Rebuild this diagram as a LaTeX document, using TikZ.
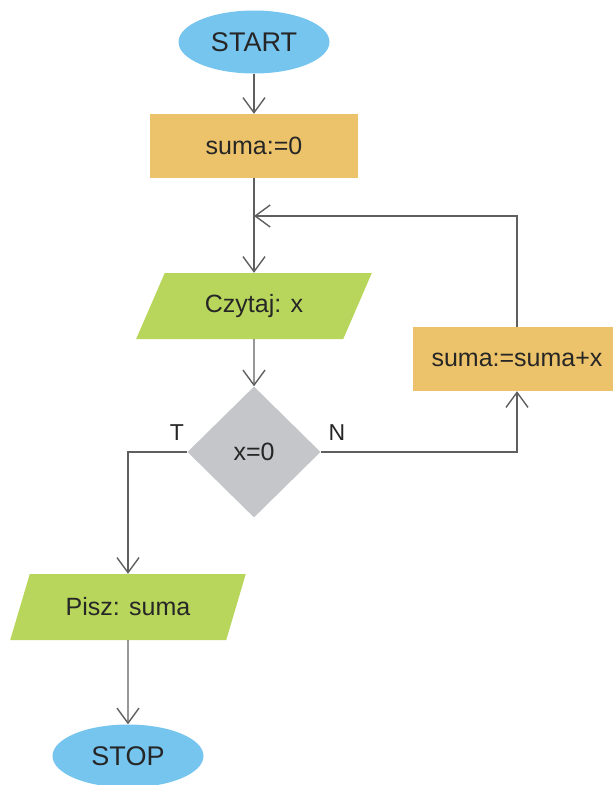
\documentclass[tikz,border=0pt]{standalone}
\usepackage{fontspec}
\setmainfont{Liberation Sans}
\usetikzlibrary{arrows.meta,shapes.geometric}
\definecolor{TermBlue}{RGB}{118,197,239}
\definecolor{ProcOrange}{RGB}{236,195,106}
\definecolor{IoGreen}{RGB}{184,214,92}
\definecolor{DecGray}{RGB}{197,198,202}
\definecolor{LineGray}{RGB}{95,95,95}
\definecolor{InkDark}{RGB}{38,38,38}
\tikzset{
  term/.style    ={ellipse, fill=TermBlue, text=InkDark, minimum width=151pt,
                   minimum height=63pt, inner sep=0pt, font=\fontsize{27}{30}\selectfont},
  procbox/.style ={rectangle, fill=ProcOrange, text=InkDark, minimum width=208pt,
                   minimum height=64pt, inner sep=0pt, font=\fontsize{25}{30}\selectfont},
  iobox/.style   ={trapezium, trapezium left angle=56, trapezium right angle=124,
                   trapezium stretches=true, fill=IoGreen, text=InkDark, minimum width=236pt,
                   minimum height=66pt, inner sep=0pt, font=\fontsize{25}{30}\selectfont},
  decbox/.style  ={diamond, fill=DecGray, text=InkDark, minimum width=133pt,
                   minimum height=131pt, inner sep=0pt, font=\fontsize{25}{30}\selectfont},
  arr/.style     ={-{Straight Barb[length=15pt,width=22pt]}, draw=LineGray, line width=1.4pt},
  lin/.style     ={draw=LineGray, line width=1.4pt},
  lbl/.style     ={text=InkDark, inner sep=0pt, font=\fontsize{23}{28}\selectfont},
}
\begin{document}
\begin{tikzpicture}[x=1pt,y=-1pt]
  \useasboundingbox (0,0) rectangle (613,785);

  \node[term]    (start) at (254,42)  {START};
  \node[procbox] (init)  at (254,146) {suma:=0};
  \node[iobox]   (read)  at (254,306) {Czytaj: x};
  \node[decbox]  (cond)  at (254,452) {x=0};
  \node[procbox] (add)   at (517,359) {suma:=suma+x};
  \node[iobox]   (write) at (128,607) {Pisz: suma};
  \node[term]    (stop)  at (128,756) {STOP};

  \coordinate (join) at (254,216);

  \draw[arr] (start) -- (init);
  \draw[arr] (init) -- (read);
  \draw[arr] (read) -- (cond);
  \draw[arr] (cond.west) -| (write.north);
  \draw[arr] (cond.east) -| (add.south);
  \draw[arr] (add.north) |- (join);
  \draw[arr] (write) -- (stop);

  \node[lbl] (yes) at (177,433) {T};
  \node[lbl] (no)  at (337,433) {N};
\end{tikzpicture}
\end{document}
